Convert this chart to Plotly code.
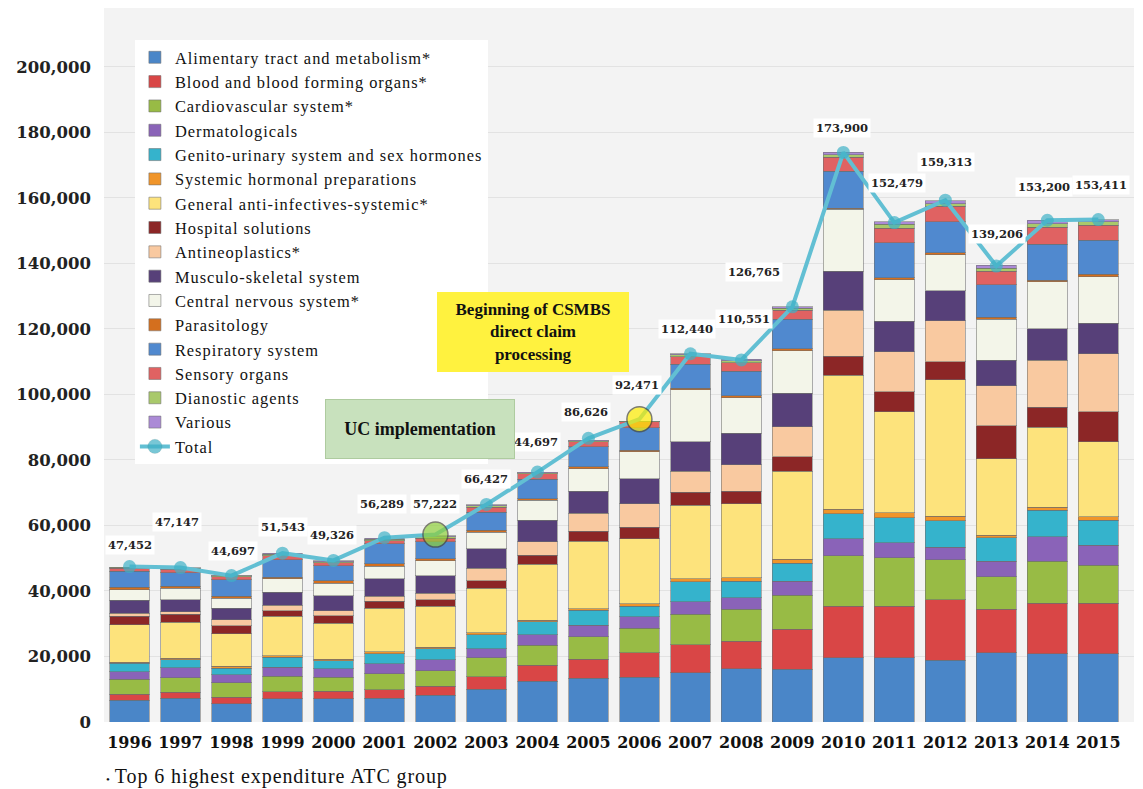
import plotly.graph_objects as go

years = ["1996", "1997", "1998", "1999", "2000", "2001", "2002", "2003", "2004", "2005",
         "2006", "2007", "2008", "2009", "2010", "2011", "2012", "2013", "2014", "2015"]

alimentary      = [6700, 7300, 5600, 7100, 7100, 7300, 8100, 10000, 12400, 13400, 13700, 15100, 16300, 16100, 19600, 19600, 18800, 21200, 20900, 20900]
blood           = [1700, 1800, 2000, 2200, 2300, 2600, 2800, 3800, 4900, 5700, 7400, 8500, 8300, 12200, 15700, 15700, 18500, 13200, 15300, 15300]
cardiovascular  = [4600, 4400, 4400, 4600, 4300, 4800, 4800, 5800, 6100, 7000, 7600, 9300, 9800, 10400, 15400, 14900, 12200, 9900, 12900, 11700]
dermatologicals = [2300, 3000, 2400, 2800, 2500, 3100, 3300, 2800, 3300, 3400, 3500, 3800, 3500, 4300, 5300, 4600, 3900, 4800, 7400, 6100]
genito_urinary  = [2700, 2500, 2000, 3100, 2500, 3100, 3400, 4300, 3900, 4600, 3200, 6100, 5100, 5400, 7600, 7500, 8100, 7100, 8100, 7600]
systemic_horm   = [300, 400, 600, 500, 500, 500, 500, 600, 500, 500, 700, 1000, 1000, 1300, 1300, 1600, 1300, 800, 1000, 1000]
anti_infectives = [11400, 11000, 9900, 12000, 10900, 13400, 12500, 13600, 17100, 20600, 19800, 22400, 22700, 26900, 40900, 30900, 41700, 23400, 24400, 22900]
hospital_sol    = [2600, 2500, 2500, 1700, 2300, 2000, 2000, 2300, 2700, 3100, 3600, 3900, 3800, 4400, 5900, 6100, 5500, 10000, 6100, 9200]
antineoplastics = [900, 800, 1800, 1700, 1500, 1600, 1900, 3800, 4100, 5400, 7100, 6500, 8100, 9200, 14000, 12200, 12500, 12200, 14300, 17800]
musculo         = [3900, 3600, 3500, 3900, 4600, 5300, 5400, 5900, 6600, 6800, 7600, 9000, 9500, 10200, 11900, 9200, 9200, 7800, 9700, 9200]
cns             = [3300, 3500, 3100, 4100, 3900, 3900, 4600, 5100, 6100, 6900, 8300, 15800, 10900, 12900, 18900, 12800, 10900, 12500, 14300, 14300]
parasitology    = [800, 600, 600, 500, 700, 700, 500, 500, 500, 500, 500, 500, 600, 600, 400, 600, 600, 700, 500, 700]
respiratory     = [4800, 4100, 5100, 5400, 4600, 6100, 5300, 5600, 5900, 6100, 6900, 7300, 7500, 9000, 11200, 10600, 9600, 9900, 10900, 10400]
sensory         = [1000, 1200, 900, 1200, 1000, 1000, 1000, 1500, 1700, 1500, 1700, 2300, 2600, 2800, 4400, 4400, 4700, 4100, 5200, 4600]
diagnostic      = [200, 200, 200, 400, 300, 400, 400, 400, 300, 300, 200, 600, 600, 600, 700, 1200, 700, 1000, 1200, 1000]
various         = [100, 200, 100, 300, 200, 300, 400, 300, 200, 200, 100, 400, 400, 500, 700, 800, 900, 800, 1000, 700]

total        = [47452, 47147, 44697, 51543, 49326, 56289, 57222, 66427, 76300, 86626,
                92471, 112440, 110551, 126765, 173900, 152479, 159313, 139206, 153200, 153411]
total_labels = ["47,452", "47,147", "44,697", "51,543", "49,326", "56,289", "57,222", "66,427", "44,697", "86,626",
                "92,471", "112,440", "110,551", "126,765", "173,900", "152,479", "159,313", "139,206", "153,200", "153,411"]

series = [
    ("Alimentary tract and metabolism*", alimentary, "#4a86c8"),
    ("Blood and blood forming organs*", blood, "#d94646"),
    ("Cardiovascular system*", cardiovascular, "#98bb45"),
    ("Dermatologicals", dermatologicals, "#8a63b8"),
    ("Genito-urinary system and sex hormones", genito_urinary, "#35b3cc"),
    ("Systemic hormonal preparations", systemic_horm, "#f0952a"),
    ("General anti-infectives-systemic*", anti_infectives, "#fde37c"),
    ("Hospital solutions", hospital_sol, "#8c2626"),
    ("Antineoplastics*", antineoplastics, "#f9c9a0"),
    ("Musculo-skeletal system", musculo, "#574079"),
    ("Central nervous system*", cns, "#f3f5e9"),
    ("Parasitology", parasitology, "#d46f1e"),
    ("Respiratory system", respiratory, "#5089cf"),
    ("Sensory organs", sensory, "#e06262"),
    ("Dianostic agents", diagnostic, "#a9c96b"),
    ("Various", various, "#ab8ad6"),
]

# style config
highlight = {"2002": "#8fcf3c", "2006": "#ffee00"}
label_shift = {  # (xshift, yshift) in px for total labels
    "1996": (0, 22), "1997": (-3, 46), "1998": (2, 25), "1999": (1, 26), "2000": (-1, 25),
    "2001": (-2, 34), "2002": (0, 31), "2003": (0, 25), "2004": (-1, 30), "2005": (-2, 26),
    "2006": (-2, 34), "2007": (-3, 25), "2008": (3, 41), "2009": (-38, 35), "2010": (-1, 24),
    "2011": (3, 40), "2012": (1, 38), "2013": (1, 32), "2014": (-3, 33), "2015": (3, 35),
}


def spaced(txt, px=1):
    return "<span style='letter-spacing:%spx'>%s</span>" % (px, txt)


fig = go.Figure()
for name, vals, col in series:
    fig.add_trace(go.Bar(
        x=years, y=vals, name=spaced(name),
        marker=dict(color=col, line=dict(color="rgba(110,110,110,0.55)", width=1)),
    ))

m_colors = [highlight.get(y, "#3fb0c6") for y in years]
m_sizes = [25 if y in highlight else 13 for y in years]
m_line = [1.5 if y in highlight else 0 for y in years]
fig.add_trace(go.Scatter(
    x=years, y=total, name=spaced("Total"), mode="lines+markers",
    line=dict(color="#62bfd3", width=4),
    marker=dict(color=m_colors, size=m_sizes, line=dict(color="#4a4a3a", width=m_line)),
))

lab_font = dict(family="DejaVu Serif", size=11.5, color="#222222", weight="bold")
for i, (y, t, lab) in enumerate(zip(years, total, total_labels)):
    xs, ys = label_shift[y]
    fig.add_annotation(
        x=i, y=t, text=lab, showarrow=False,
        xshift=xs, yshift=ys, bgcolor="white", borderpad=2, font=lab_font,
    )

fig.add_annotation(
    xref="paper", yref="paper", x=0.3068, y=0.41, xanchor="center", yanchor="middle",
    text="<b>UC implementation</b>", showarrow=False,
    width=186, height=56, bgcolor="#c8e1bd", bordercolor="#aecb9f", borderwidth=1,
    font=dict(family="Liberation Serif", size=18, color="#111111"),
)
fig.add_annotation(
    xref="paper", yref="paper", x=0.4165, y=0.546, xanchor="center", yanchor="middle",
    text="<b>Beginning of CSMBS<br>direct claim<br>processing</b>", showarrow=False,
    width=190, height=78, bgcolor="#fff23f", borderwidth=0,
    font=dict(family="Liberation Serif", size=17, color="#111111"),
)
fig.add_annotation(
    xref="paper", yref="paper", x=0.0, y=-0.076, xanchor="left", yanchor="middle",
    text="<span style='font-size:11px'>•</span> " + spaced("Top 6 highest expenditure ATC group", 0.9),
    showarrow=False,
    font=dict(family="Liberation Serif", size=20, color="#111111"),
)

fig.update_layout(
    width=1135, height=781,
    barmode="stack", bargap=0.22,
    paper_bgcolor="white", plot_bgcolor="#f3f3f3",
    margin=dict(l=96, r=9, t=0, b=67),
    showlegend=True,
    legend=dict(
        x=0.03, y=0.955, xanchor="left", yanchor="top",
        traceorder="normal", bgcolor="white", borderwidth=0,
        font=dict(family="Liberation Serif", size=16.4, color="#111111"),
        tracegroupgap=0, itemwidth=30,
    ),
    xaxis=dict(
        type="category", range=[-0.5, 19.7],
        tickfont=dict(family="DejaVu Serif", size=16, color="#111111", weight="bold"),
        showgrid=False, ticks="", showline=False, ticklabelstandoff=9,
    ),
    yaxis=dict(
        range=[0, 218000], tickvals=list(range(0, 200001, 20000)),
        tickformat=",d",
        tickfont=dict(family="DejaVu Serif", size=16.5, color="#222222", weight="bold"),
        showgrid=True, gridcolor="#e2e2e2", gridwidth=1, zeroline=False,
        ticklabelstandoff=12,
    ),
)

fig.write_html("out.html")
